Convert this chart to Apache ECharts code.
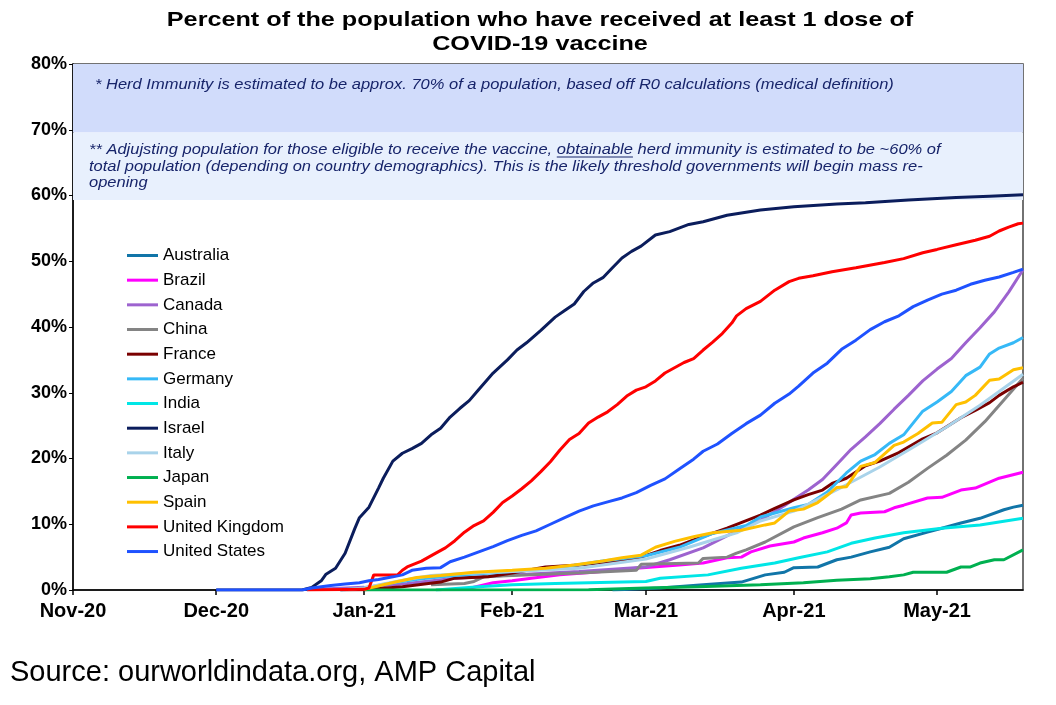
<!DOCTYPE html>
<html>
<head>
<meta charset="utf-8">
<title>Percent of the population who have received at least 1 dose of COVID-19 vaccine</title>
<script src="https://cdn.jsdelivr.net/npm/echarts@6/dist/echarts.min.js"></script>
<style>
  html, body { margin: 0; padding: 0; background: #fff; }
  #chart { width: 1056px; height: 705px; }
</style>
</head>
<body>
<div id="chart"></div>
<script>
// values are % of population
var countries = ["Australia", "Brazil", "Canada", "China", "France", "Germany", "India",
  "Israel", "Italy", "Japan", "Spain", "United Kingdom", "United States"];
var colors = ["#1175a8", "#ff00ff", "#9d63cf", "#848484", "#7a0000", "#36b9f7", "#00e6e6",
  "#0b1d5c", "#a9d3ea", "#00b050", "#ffc000", "#ff0000", "#1f52ff"];
var months = ["Jan", "Feb", "Mar", "Apr", "May", "Jun", "Jul", "Aug", "Sep", "Oct", "Nov", "Dec"];

var australia = [
  ["2021-02-22", 0], ["2021-03-04", 0.3], ["2021-03-13", 0.8], ["2021-03-21", 1.2],
  ["2021-03-26", 2.3], ["2021-03-30", 2.7], ["2021-04-01", 3.4], ["2021-04-06", 3.5],
  ["2021-04-10", 4.6], ["2021-04-13", 5.0], ["2021-04-17", 5.8], ["2021-04-21", 6.5],
  ["2021-04-24", 7.8], ["2021-04-29", 8.8], ["2021-05-02", 9.4], ["2021-05-06", 10.2],
  ["2021-05-10", 10.9], ["2021-05-15", 12.2], ["2021-05-17", 12.6], ["2021-05-19", 12.9]
];
var brazil = [
  ["2021-01-22", 0.1], ["2021-01-28", 1.1], ["2021-02-01", 1.4], ["2021-02-05", 1.8],
  ["2021-02-11", 2.3], ["2021-02-18", 2.7], ["2021-02-27", 3.3], ["2021-03-08", 3.8],
  ["2021-03-13", 4.1], ["2021-03-18", 4.9], ["2021-03-21", 5.0], ["2021-03-23", 5.8],
  ["2021-03-27", 6.7], ["2021-04-01", 7.3], ["2021-04-03", 7.9], ["2021-04-07", 8.7],
  ["2021-04-10", 9.4], ["2021-04-12", 10.2], ["2021-04-13", 11.4], ["2021-04-15", 11.7],
  ["2021-04-20", 11.9], ["2021-04-22", 12.5], ["2021-04-24", 12.9], ["2021-04-29", 14.0],
  ["2021-05-02", 14.1], ["2021-05-06", 15.2], ["2021-05-09", 15.5], ["2021-05-14", 17.0],
  ["2021-05-19", 17.9]
];
var canada = [
  ["2020-12-22", 0.1], ["2021-01-01", 0.4], ["2021-01-10", 1.0], ["2021-01-20", 1.8],
  ["2021-02-01", 2.3], ["2021-02-15", 2.8], ["2021-03-01", 3.5], ["2021-03-06", 4.6],
  ["2021-03-13", 6.4], ["2021-03-19", 8.6], ["2021-03-25", 10.6], ["2021-03-30", 12.8],
  ["2021-04-01", 13.8], ["2021-04-04", 15.2], ["2021-04-07", 16.8], ["2021-04-10", 19.1],
  ["2021-04-13", 21.4], ["2021-04-16", 23.3], ["2021-04-19", 25.3], ["2021-04-22", 27.5],
  ["2021-04-25", 29.6], ["2021-04-28", 31.8], ["2021-05-01", 33.6], ["2021-05-04", 35.2],
  ["2021-05-07", 37.6], ["2021-05-10", 39.9], ["2021-05-13", 42.3], ["2021-05-16", 45.3],
  ["2021-05-19", 48.7]
];
var china = [
  ["2021-01-15", 0.8], ["2021-01-22", 1.0], ["2021-01-24", 1.3], ["2021-01-26", 2.0],
  ["2021-02-01", 2.2], ["2021-02-15", 2.6], ["2021-02-27", 3.0], ["2021-02-28", 3.9],
  ["2021-03-12", 4.1], ["2021-03-13", 4.8], ["2021-03-18", 5.0], ["2021-03-20", 5.6],
  ["2021-03-22", 6.1], ["2021-03-26", 7.3], ["2021-04-01", 9.6], ["2021-04-06", 11.0],
  ["2021-04-11", 12.3], ["2021-04-15", 13.7], ["2021-04-21", 14.7], ["2021-04-25", 16.4],
  ["2021-04-29", 18.5], ["2021-05-03", 20.5], ["2021-05-07", 22.8], ["2021-05-11", 25.6],
  ["2021-05-15", 28.9], ["2021-05-19", 32.2]
];
var france = [
  ["2020-12-27", 0], ["2021-01-01", 0.05], ["2021-01-09", 0.5], ["2021-01-17", 1.2],
  ["2021-01-20", 1.8], ["2021-01-27", 2.0], ["2021-02-01", 2.6], ["2021-02-08", 3.5],
  ["2021-02-15", 3.8], ["2021-02-22", 4.3], ["2021-02-28", 5.0], ["2021-03-04", 6.0],
  ["2021-03-08", 6.8], ["2021-03-11", 7.6], ["2021-03-18", 9.4], ["2021-03-25", 11.4],
  ["2021-03-28", 12.4], ["2021-04-01", 13.7], ["2021-04-04", 14.5], ["2021-04-07", 15.2],
  ["2021-04-09", 16.2], ["2021-04-12", 17.0], ["2021-04-16", 18.9], ["2021-04-19", 19.6],
  ["2021-04-23", 20.9], ["2021-04-28", 23.0], ["2021-05-01", 23.9], ["2021-05-06", 26.2],
  ["2021-05-09", 27.3], ["2021-05-12", 28.5], ["2021-05-14", 29.6], ["2021-05-17", 30.9],
  ["2021-05-19", 31.6]
];
var germany = [
  ["2020-12-27", 0], ["2021-01-01", 0.3], ["2021-01-07", 1.1], ["2021-01-13", 1.7],
  ["2021-01-20", 2.2], ["2021-02-01", 2.8], ["2021-02-10", 3.3], ["2021-02-20", 4.4],
  ["2021-03-01", 5.2], ["2021-03-08", 6.5], ["2021-03-15", 8.6], ["2021-03-22", 9.8],
  ["2021-03-25", 11.1], ["2021-04-01", 12.5], ["2021-04-04", 13.0], ["2021-04-08", 14.9],
  ["2021-04-12", 17.8], ["2021-04-15", 19.6], ["2021-04-18", 20.6], ["2021-04-21", 22.3],
  ["2021-04-24", 23.6], ["2021-04-28", 27.2], ["2021-05-01", 28.6], ["2021-05-04", 30.2],
  ["2021-05-07", 32.6], ["2021-05-10", 33.9], ["2021-05-12", 35.9], ["2021-05-14", 36.8],
  ["2021-05-17", 37.6], ["2021-05-19", 38.4]
];
var india = [
  ["2021-01-16", 0], ["2021-01-25", 0.5], ["2021-02-01", 0.8], ["2021-02-10", 1.0],
  ["2021-03-01", 1.3], ["2021-03-04", 1.8], ["2021-03-14", 2.3], ["2021-03-21", 3.3],
  ["2021-03-28", 4.1], ["2021-04-02", 4.9], ["2021-04-08", 5.8], ["2021-04-13", 7.1],
  ["2021-04-18", 7.9], ["2021-04-24", 8.7], ["2021-05-02", 9.4], ["2021-05-10", 9.9],
  ["2021-05-19", 10.9]
];
var israel = [
  ["2020-12-01", 0], ["2020-12-19", 0], ["2020-12-21", 0.4], ["2020-12-23", 1.4],
  ["2020-12-24", 2.4], ["2020-12-26", 3.3], ["2020-12-28", 5.6], ["2020-12-30", 9.3],
  ["2020-12-31", 11.0], ["2021-01-02", 12.6], ["2021-01-04", 15.5], ["2021-01-05", 17.0],
  ["2021-01-07", 19.6], ["2021-01-09", 20.8], ["2021-01-11", 21.5], ["2021-01-13", 22.3],
  ["2021-01-15", 23.6], ["2021-01-17", 24.6], ["2021-01-19", 26.3], ["2021-01-21", 27.6],
  ["2021-01-23", 28.8], ["2021-01-25", 30.5], ["2021-01-28", 33.0], ["2021-01-31", 35.0],
  ["2021-02-02", 36.5], ["2021-02-04", 37.6], ["2021-02-07", 39.5], ["2021-02-10", 41.5],
  ["2021-02-12", 42.5], ["2021-02-14", 43.5], ["2021-02-16", 45.4], ["2021-02-18", 46.7],
  ["2021-02-20", 47.5], ["2021-02-22", 49.0], ["2021-02-24", 50.5], ["2021-02-26", 51.5],
  ["2021-02-28", 52.3], ["2021-03-03", 54.0], ["2021-03-06", 54.5], ["2021-03-10", 55.6],
  ["2021-03-13", 56.0], ["2021-03-18", 57.0], ["2021-03-25", 57.8], ["2021-04-01", 58.3],
  ["2021-04-10", 58.7], ["2021-04-16", 58.9], ["2021-04-25", 59.3], ["2021-05-05", 59.7],
  ["2021-05-12", 59.9], ["2021-05-19", 60.1]
];
var italy = [
  ["2020-12-27", 0], ["2021-01-01", 0.3], ["2021-01-05", 0.9], ["2021-01-10", 1.6],
  ["2021-01-15", 2.2], ["2021-01-22", 2.5], ["2021-02-01", 2.8], ["2021-02-15", 3.3],
  ["2021-03-01", 4.7], ["2021-03-10", 6.5], ["2021-03-20", 8.7], ["2021-03-25", 10.5],
  ["2021-04-01", 12.0], ["2021-04-05", 13.4], ["2021-04-12", 16.0], ["2021-04-19", 18.7],
  ["2021-04-26", 21.7], ["2021-05-03", 24.8], ["2021-05-10", 28.1], ["2021-05-19", 32.8]
];
var japan = [
  ["2021-01-01", 0], ["2021-02-17", 0.05], ["2021-03-01", 0.3], ["2021-03-12", 0.5],
  ["2021-03-25", 0.8], ["2021-04-03", 1.1], ["2021-04-10", 1.5], ["2021-04-17", 1.7],
  ["2021-04-21", 2.0], ["2021-04-24", 2.3], ["2021-04-26", 2.7], ["2021-05-03", 2.7],
  ["2021-05-06", 3.5], ["2021-05-08", 3.5], ["2021-05-10", 4.1], ["2021-05-13", 4.6],
  ["2021-05-15", 4.6], ["2021-05-19", 6.1]
];
var spain = [
  ["2021-01-01", 0.1], ["2021-01-05", 0.8], ["2021-01-08", 1.3], ["2021-01-12", 1.9],
  ["2021-01-17", 2.2], ["2021-01-24", 2.7], ["2021-02-01", 3.0], ["2021-02-08", 3.3],
  ["2021-02-14", 3.8], ["2021-02-20", 4.4], ["2021-02-24", 4.9], ["2021-02-28", 5.3],
  ["2021-03-03", 6.5], ["2021-03-07", 7.4], ["2021-03-11", 8.1], ["2021-03-15", 8.7],
  ["2021-03-21", 9.1], ["2021-03-26", 9.9], ["2021-03-28", 10.2], ["2021-03-31", 12.0],
  ["2021-04-03", 12.3], ["2021-04-06", 13.3], ["2021-04-08", 14.4], ["2021-04-10", 15.6],
  ["2021-04-12", 15.7], ["2021-04-15", 18.8], ["2021-04-18", 19.4], ["2021-04-22", 22.0],
  ["2021-04-24", 22.5], ["2021-04-27", 23.8], ["2021-04-30", 25.4], ["2021-05-02", 25.5],
  ["2021-05-05", 28.2], ["2021-05-07", 28.6], ["2021-05-09", 29.6], ["2021-05-12", 31.9],
  ["2021-05-14", 32.1], ["2021-05-17", 33.5], ["2021-05-19", 33.8]
];
var unitedKingdom = [
  ["2020-12-20", 0], ["2021-01-01", 0.1], ["2021-01-02", 0.3], ["2021-01-03", 2.3],
  ["2021-01-08", 2.3], ["2021-01-09", 3.0], ["2021-01-10", 3.5], ["2021-01-13", 4.4],
  ["2021-01-16", 5.6], ["2021-01-18", 6.4], ["2021-01-20", 7.5], ["2021-01-22", 8.8],
  ["2021-01-24", 9.8], ["2021-01-26", 10.5], ["2021-01-28", 11.8], ["2021-01-30", 13.3],
  ["2021-02-01", 14.3], ["2021-02-03", 15.4], ["2021-02-05", 16.6], ["2021-02-07", 18.0],
  ["2021-02-09", 19.5], ["2021-02-11", 21.3], ["2021-02-13", 22.9], ["2021-02-15", 23.8],
  ["2021-02-17", 25.4], ["2021-02-19", 26.3], ["2021-02-21", 27.1], ["2021-02-23", 28.2],
  ["2021-02-25", 29.5], ["2021-02-27", 30.4], ["2021-03-01", 30.9], ["2021-03-03", 31.8],
  ["2021-03-05", 33.0], ["2021-03-07", 33.8], ["2021-03-09", 34.6], ["2021-03-11", 35.2],
  ["2021-03-13", 36.5], ["2021-03-15", 37.7], ["2021-03-17", 39.0], ["2021-03-19", 40.6],
  ["2021-03-20", 41.7], ["2021-03-22", 42.8], ["2021-03-25", 43.9], ["2021-03-28", 45.6],
  ["2021-03-31", 46.9], ["2021-04-02", 47.4], ["2021-04-05", 47.8], ["2021-04-09", 48.4],
  ["2021-04-14", 49.0], ["2021-04-20", 49.8], ["2021-04-24", 50.4], ["2021-04-28", 51.3],
  ["2021-05-01", 51.8], ["2021-05-05", 52.5], ["2021-05-09", 53.2], ["2021-05-12", 53.8],
  ["2021-05-14", 54.6], ["2021-05-16", 55.2], ["2021-05-18", 55.7], ["2021-05-19", 55.8]
];
var unitedStates = [
  ["2020-12-01", 0], ["2020-12-19", 0], ["2020-12-21", 0.3], ["2020-12-25", 0.7],
  ["2020-12-28", 0.9], ["2020-12-31", 1.1], ["2021-01-02", 1.4], ["2021-01-04", 1.6],
  ["2021-01-07", 2.0], ["2021-01-09", 2.3], ["2021-01-11", 3.0], ["2021-01-14", 3.3],
  ["2021-01-17", 3.4], ["2021-01-19", 4.3], ["2021-01-22", 5.0], ["2021-01-25", 5.8],
  ["2021-01-28", 6.6], ["2021-01-31", 7.5], ["2021-02-03", 8.3], ["2021-02-06", 9.0],
  ["2021-02-09", 10.0], ["2021-02-12", 11.0], ["2021-02-15", 12.0], ["2021-02-18", 12.8],
  ["2021-02-21", 13.4], ["2021-02-24", 14.0], ["2021-02-27", 14.8], ["2021-03-02", 15.9],
  ["2021-03-05", 16.9], ["2021-03-08", 18.4], ["2021-03-11", 19.9], ["2021-03-13", 21.1],
  ["2021-03-16", 22.2], ["2021-03-19", 23.8], ["2021-03-22", 25.3], ["2021-03-25", 26.6],
  ["2021-03-28", 28.4], ["2021-03-31", 29.8], ["2021-04-02", 31.0], ["2021-04-05", 33.0],
  ["2021-04-08", 34.5], ["2021-04-11", 36.6], ["2021-04-14", 38.0], ["2021-04-17", 39.6],
  ["2021-04-20", 40.8], ["2021-04-23", 41.7], ["2021-04-26", 43.1], ["2021-04-29", 44.1],
  ["2021-05-02", 45.0], ["2021-05-05", 45.6], ["2021-05-08", 46.5], ["2021-05-11", 47.1],
  ["2021-05-14", 47.6], ["2021-05-17", 48.3], ["2021-05-19", 48.8]
];
var seriesData = [australia, brazil, canada, china, france, germany, india,
  israel, italy, japan, spain, unitedKingdom, unitedStates];

// herd immunity bands (% of population)
var herdBand = [69.6, 80];
var obtainableBand = [59.3, 69.6];

var xStart = new Date(2020, 10, 1).getTime();
var xEnd = new Date(2021, 4, 19).getTime();
var DAY = 86400000;

var fontFamily = "Arial, 'Liberation Sans', sans-serif";
var noteColor = "#17246a";
var noteFont = "italic 15px " + fontFamily;
var noteScale = 1.1; // 原图文字横向偏宽
var titleScale = 1.2;
var note1 = "* Herd Immunity is estimated to be approx. 70% of a population, based off R0 calculations (medical definition)";
var note2a = "** Adjujsting population for those eligible to receive the vaccine, ";
var note2b = "obtainable";
var note2c = " herd immunity is estimated to be ~60% of";
var note2 = note2a + note2b + note2c +
  "\ntotal population (depending on country demographics). This is the likely threshold governments will begin mass re-" +
  "\nopening";

// 用 canvas 量出 "obtainable" 的位置，画下划线
var ctx = document.createElement("canvas").getContext("2d");
ctx.font = noteFont;
var ulStart = 89 + ctx.measureText(note2a).width * noteScale;
var ulEnd = ulStart + ctx.measureText(note2b).width * noteScale;

var chart = echarts.init(document.getElementById("chart"));

var series = countries.map(function (name, i) {
  return {
    name: name,
    type: "line",
    data: seriesData[i],
    showSymbol: false,
    symbol: "none",
    lineStyle: { width: 3, color: colors[i] },
    itemStyle: { color: colors[i] },
    emphasis: { disabled: true },
  };
});
series.unshift({
  name: "bands",
  type: "line",
  data: [],
  silent: true,
  markArea: {
    silent: true,
    data: [
      [{ yAxis: herdBand[0], itemStyle: { color: "#d1dcfb" } }, { yAxis: herdBand[1] }],
      [{ yAxis: obtainableBand[0], itemStyle: { color: "#e8f0fd" } }, { yAxis: obtainableBand[1] }],
    ],
  },
});

var option = {
  backgroundColor: "#ffffff",
  animation: false,
  grid: {
    left: 73,
    right: 33,
    top: 64,
    bottom: 115,
    show: true,
    borderColor: "#444",
    borderWidth: 1.5,
  },
  legend: {
    data: countries,
    orient: "vertical",
    left: 122,
    top: 242,
    icon: "rect",
    itemWidth: 31,
    itemHeight: 3,
    itemGap: 7.67,
    selectedMode: false,
    textStyle: { fontSize: 17, color: "#000", fontFamily: fontFamily },
  },
  xAxis: {
    type: "time",
    min: xStart,
    max: xEnd,
    minInterval: 28 * DAY,
    maxInterval: 31 * DAY,
    splitLine: { show: false },
    axisLine: { lineStyle: { color: "#000", width: 1.5 } },
    axisTick: { show: true, length: 5, lineStyle: { color: "#000", width: 1.5 } },
    axisLabel: {
      color: "#000",
      fontWeight: "bold",
      fontSize: 20,
      fontFamily: fontFamily,
      margin: 11,
      showMaxLabel: false,
      hideOverlap: false,
      formatter: function (value) {
        var d = new Date(value);
        return months[d.getMonth()] + "-" + String(d.getFullYear()).slice(2);
      },
    },
  },
  yAxis: {
    type: "value",
    min: 0,
    max: 80,
    interval: 10,
    splitLine: { show: false },
    axisLine: { show: true, lineStyle: { color: "#000", width: 1.5 } },
    axisTick: { show: true, length: 4, lineStyle: { color: "#000" } },
    axisLabel: {
      color: "#000",
      fontWeight: "bold",
      fontSize: 18,
      fontFamily: fontFamily,
      margin: 6,
      formatter: "{value}%",
    },
  },
  graphic: [
    {
      type: "text",
      x: 540,
      y: 8,
      scaleX: titleScale,
      style: {
        text: "Percent of the population who have received at least 1 dose of\nCOVID-19 vaccine",
        font: "bold 21px " + fontFamily,
        fill: "#000",
        textAlign: "center",
        lineHeight: 24,
      },
    },
    {
      type: "text",
      x: 95,
      y: 85,
      z: 10,
      scaleX: noteScale,
      style: { text: note1, font: noteFont, fill: noteColor, textVerticalAlign: "middle" },
    },
    {
      type: "text",
      x: 89,
      y: 142,
      z: 10,
      scaleX: noteScale,
      style: { text: note2, font: noteFont, fill: noteColor, lineHeight: 16.5 },
    },
    {
      type: "line",
      z: 10,
      shape: { x1: ulStart, y1: 157, x2: ulEnd, y2: 157 },
      style: { stroke: noteColor, lineWidth: 1 },
    },
    {
      type: "text",
      x: 10,
      y: 673,
      style: {
        text: "Source: ourworldindata.org, AMP Capital",
        font: "29px " + fontFamily,
        fill: "#000",
        textVerticalAlign: "middle",
      },
    },
  ],
  series: series,
};

chart.setOption(option);
</script>
</body>
</html>
